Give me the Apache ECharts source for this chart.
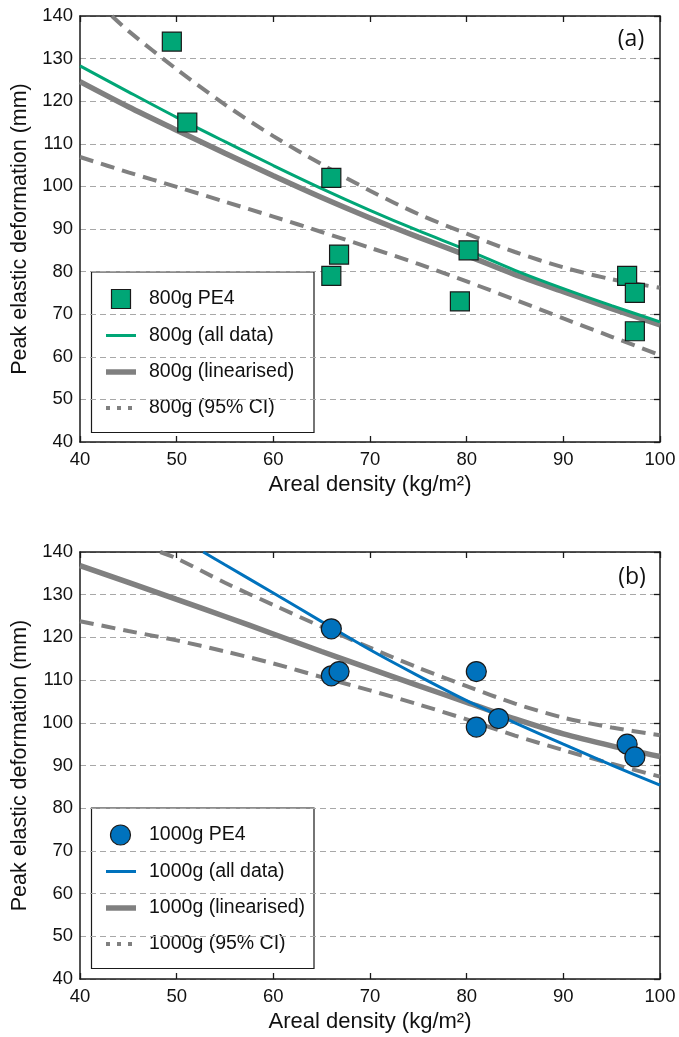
<!DOCTYPE html>
<html><head><meta charset="utf-8">
<script src="https://cdn.jsdelivr.net/npm/echarts@6/dist/echarts.min.js"></script>
<style>html,body{margin:0;padding:0;background:#fff}#c{width:679px;height:1037px}</style>
</head><body><div id="c"></div>
<script>
// ---- data: panel (a) 800g ----
const pts800 = [[49.5,134],[51.1,115],[66.0,102],[66.0,79],[66.8,84],[79.3,73],[80.2,85],[96.6,79],[97.4,75],[97.4,66]];
const all800 = [[40,128.3],[45,122.2],[50,116.2],[55,110.5],[60,104.9],[65,99.5],[70,94.4],[75,89.6],[80,85.1],[85,80.3],[90,76.0],[95,72.0],[100,68.2]];
const lin800 = [[40,124.6],[45,118.7],[50,113.2],[55,107.8],[60,102.5],[65,97.4],[70,92.6],[75,88.1],[80,83.8],[85,79.3],[90,75.3],[95,71.3],[100,67.5]];
const ciHi800 = [[43.3,140],[45,136.5],[50,127.5],[55,119.2],[60,111.8],[65,105.2],[70,99.0],[75,93.5],[80,88.9],[85,84.6],[90,81.0],[95,78.2],[100,76.2]];
const ciLo800 = [[40,106.9],[45,103.3],[50,99.9],[55,96.4],[60,92.9],[65,89.3],[70,85.6],[75,81.8],[80,77.7],[85,73.4],[90,69.0],[95,64.7],[100,60.4]];
// ---- data: panel (b) 1000g ----
const pts1000 = [[66.0,122],[66.0,111],[66.8,112],[81.0,112],[81.0,99],[83.3,101],[96.6,95],[97.4,92]];
const all1000 = [[52.75,140],[55,137.0],[60,130.4],[65,123.7],[70,117.1],[75,111.0],[80,105.2],[85,100.0],[90,95.0],[95,90.1],[100,85.4]];
const lin1000 = [[40,136.8],[45,132.9],[50,128.9],[55,124.9],[60,120.8],[65,116.7],[70,112.7],[75,108.7],[80,104.8],[85,100.9],[90,97.4],[95,94.6],[100,92.1]];
const ciHi1000 = [[48.3,140],[50,138.5],[55,132.8],[60,127.6],[65,122.5],[70,117.6],[75,112.9],[80,108.6],[85,104.5],[90,101.2],[95,98.9],[100,97.1]];
const ciLo1000 = [[40,123.8],[45,121.5],[50,119.3],[55,116.7],[60,113.9],[65,110.7],[70,107.6],[75,104.3],[80,100.8],[85,97.0],[90,93.6],[95,90.4],[100,87.4]];
// ---- labels ----
const names800 = ['800g PE4','800g (all data)','800g (linearised)','800g (95% CI)'];
const names1000 = ['1000g PE4','1000g (all data)','1000g (linearised)','1000g (95% CI)'];
const panelLabels = ['(a)','(b)'];
const xTitle = 'Areal density (kg/m²)';
const yTitle = 'Peak elastic deformation (mm)';

const FONT = "'Liberation Sans', Arial, sans-serif";
const LFONT = "'Open Sans', 'Noto Sans', sans-serif";
const GREEN = '#00a676', BLUE = '#0072bd', GRAY = '#808080', INK = '#1a1a1a';
const chart = echarts.init(document.getElementById('c'), null, {renderer:'canvas'});

const grids = [
  {left:80, right:19, top:16, height:426},
  {left:80, right:19, top:552, height:427}
];
const axLine = {show:true, onZero:false, lineStyle:{color:INK, width:1.5}};
const xAxes = [], yAxes = [];
grids.forEach((g,i)=>{
  xAxes.push({gridIndex:i, type:'value', min:40, max:100, interval:10, position:'bottom',
    axisLine:axLine, axisTick:{inside:true, length:6, lineStyle:{color:INK, width:1.3}},
    axisLabel:{color:'#111', fontSize:18.5, fontFamily:FONT, margin:8},
    splitLine:{show:false},
    name:xTitle, nameLocation:'middle', nameGap:32,
    nameTextStyle:{fontSize:22, color:'#111', fontFamily:FONT}});
  xAxes.push({gridIndex:i, type:'value', min:40, max:100, interval:10, position:'top',
    axisLine:axLine, axisTick:{inside:true, length:6, lineStyle:{color:INK, width:1.3}},
    axisLabel:{show:false}, splitLine:{show:false}});
  yAxes.push({gridIndex:i, type:'value', min:40, max:140, interval:10, position:'left',
    axisLine:axLine, axisTick:{show:false},
    axisLabel:{color:'#111', fontSize:18.5, fontFamily:FONT, margin:7},
    splitLine:{show:true, lineStyle:{type:[6,4], color:'#a8a8a8', width:1}},
    name:yTitle, nameLocation:'middle', nameGap:47, nameRotate:90,
    nameTextStyle:{fontSize:21.5, color:'#111', fontFamily:FONT}});
  yAxes.push({gridIndex:i, type:'value', min:40, max:140, interval:10, position:'right',
    axisLine:axLine, axisTick:{inside:true, length:6, lineStyle:{color:INK, width:1.3}},
    axisLabel:{show:false}, splitLine:{show:false}});
});

function lineSeries(p, name, data, style){
  return {type:'line', name, xAxisIndex:2*p, yAxisIndex:2*p, data, showSymbol:false, symbol:'none',
    smooth:0.3, clip:true, lineStyle:style, z:2, silent:true};
}
const dashStyle = {color:GRAY, width:4, type:[14,8], cap:'butt'};
const series = [
  lineSeries(0, names800[3], ciHi800, dashStyle),
  lineSeries(0, names800[3]+' ', ciLo800, dashStyle),
  lineSeries(0, names800[2], lin800, {color:GRAY, width:5.5}),
  lineSeries(0, names800[1], all800, {color:GREEN, width:3}),
  {type:'scatter', name:names800[0], xAxisIndex:0, yAxisIndex:0, data:pts800, symbol:'rect', symbolSize:19,
    itemStyle:{color:GREEN, borderColor:INK, borderWidth:1.2, opacity:1}, z:5},
  lineSeries(1, names1000[3], ciHi1000, dashStyle),
  lineSeries(1, names1000[3]+' ', ciLo1000, dashStyle),
  lineSeries(1, names1000[2], lin1000, {color:GRAY, width:5.5}),
  lineSeries(1, names1000[1], all1000, {color:BLUE, width:3}),
  {type:'scatter', name:names1000[0], xAxisIndex:2, yAxisIndex:2, data:pts1000, symbol:'circle', symbolSize:20,
    itemStyle:{color:BLUE, borderColor:INK, borderWidth:1.2, opacity:1}, z:5}
];

function legendGroup(top, names, color, marker){
  const rows = [27, 63.5, 100, 136];
  const ch = [{type:'rect', shape:{x:91.5, y:top, width:222.5, height:160.5},
    style:{fill:'#fff', stroke:INK, lineWidth:1.2}}];
  const cy0 = top + rows[0];
  if(marker==='rect'){
    ch.push({type:'rect', shape:{x:111.5, y:cy0-9.5, width:19, height:19}, style:{fill:color, stroke:INK, lineWidth:1.2}});
  } else {
    ch.push({type:'circle', shape:{cx:120.5, cy:cy0, r:10}, style:{fill:color, stroke:INK, lineWidth:1.2}});
  }
  ch.push({type:'line', shape:{x1:106, y1:top+rows[1], x2:136, y2:top+rows[1]}, style:{stroke:color, lineWidth:3}});
  ch.push({type:'line', shape:{x1:106, y1:top+rows[2], x2:136, y2:top+rows[2]}, style:{stroke:GRAY, lineWidth:5.5}});
  ch.push({type:'line', shape:{x1:106, y1:top+rows[3], x2:136, y2:top+rows[3]}, style:{stroke:GRAY, lineWidth:4, lineDash:[4,7], lineDashOffset:0}});
  names.forEach((n,k)=>{
    ch.push({type:'text', x:149, y:top+rows[k], style:{text:n, fontSize:19.5, fontFamily:FONT, fill:'#111', verticalAlign:'middle', align:'left'}});
  });
  return {type:'group', children:ch, z:10};
}

const graphic = [
  legendGroup(272, names800, GREEN, 'rect'),
  legendGroup(808, names1000, BLUE, 'circle'),
  {type:'text', x:631, y:39, z:10, style:{text:panelLabels[0], fontSize:23, fontFamily:LFONT, fill:'#111', align:'center', verticalAlign:'middle'}},
  {type:'text', x:632, y:577, z:10, style:{text:panelLabels[1], fontSize:23, fontFamily:LFONT, fill:'#111', align:'center', verticalAlign:'middle'}}
];

chart.setOption({
  animation:false,
  backgroundColor:'#fff',
  grid:grids,
  xAxis:xAxes,
  yAxis:yAxes,
  series,
  graphic
});
</script></body></html>
